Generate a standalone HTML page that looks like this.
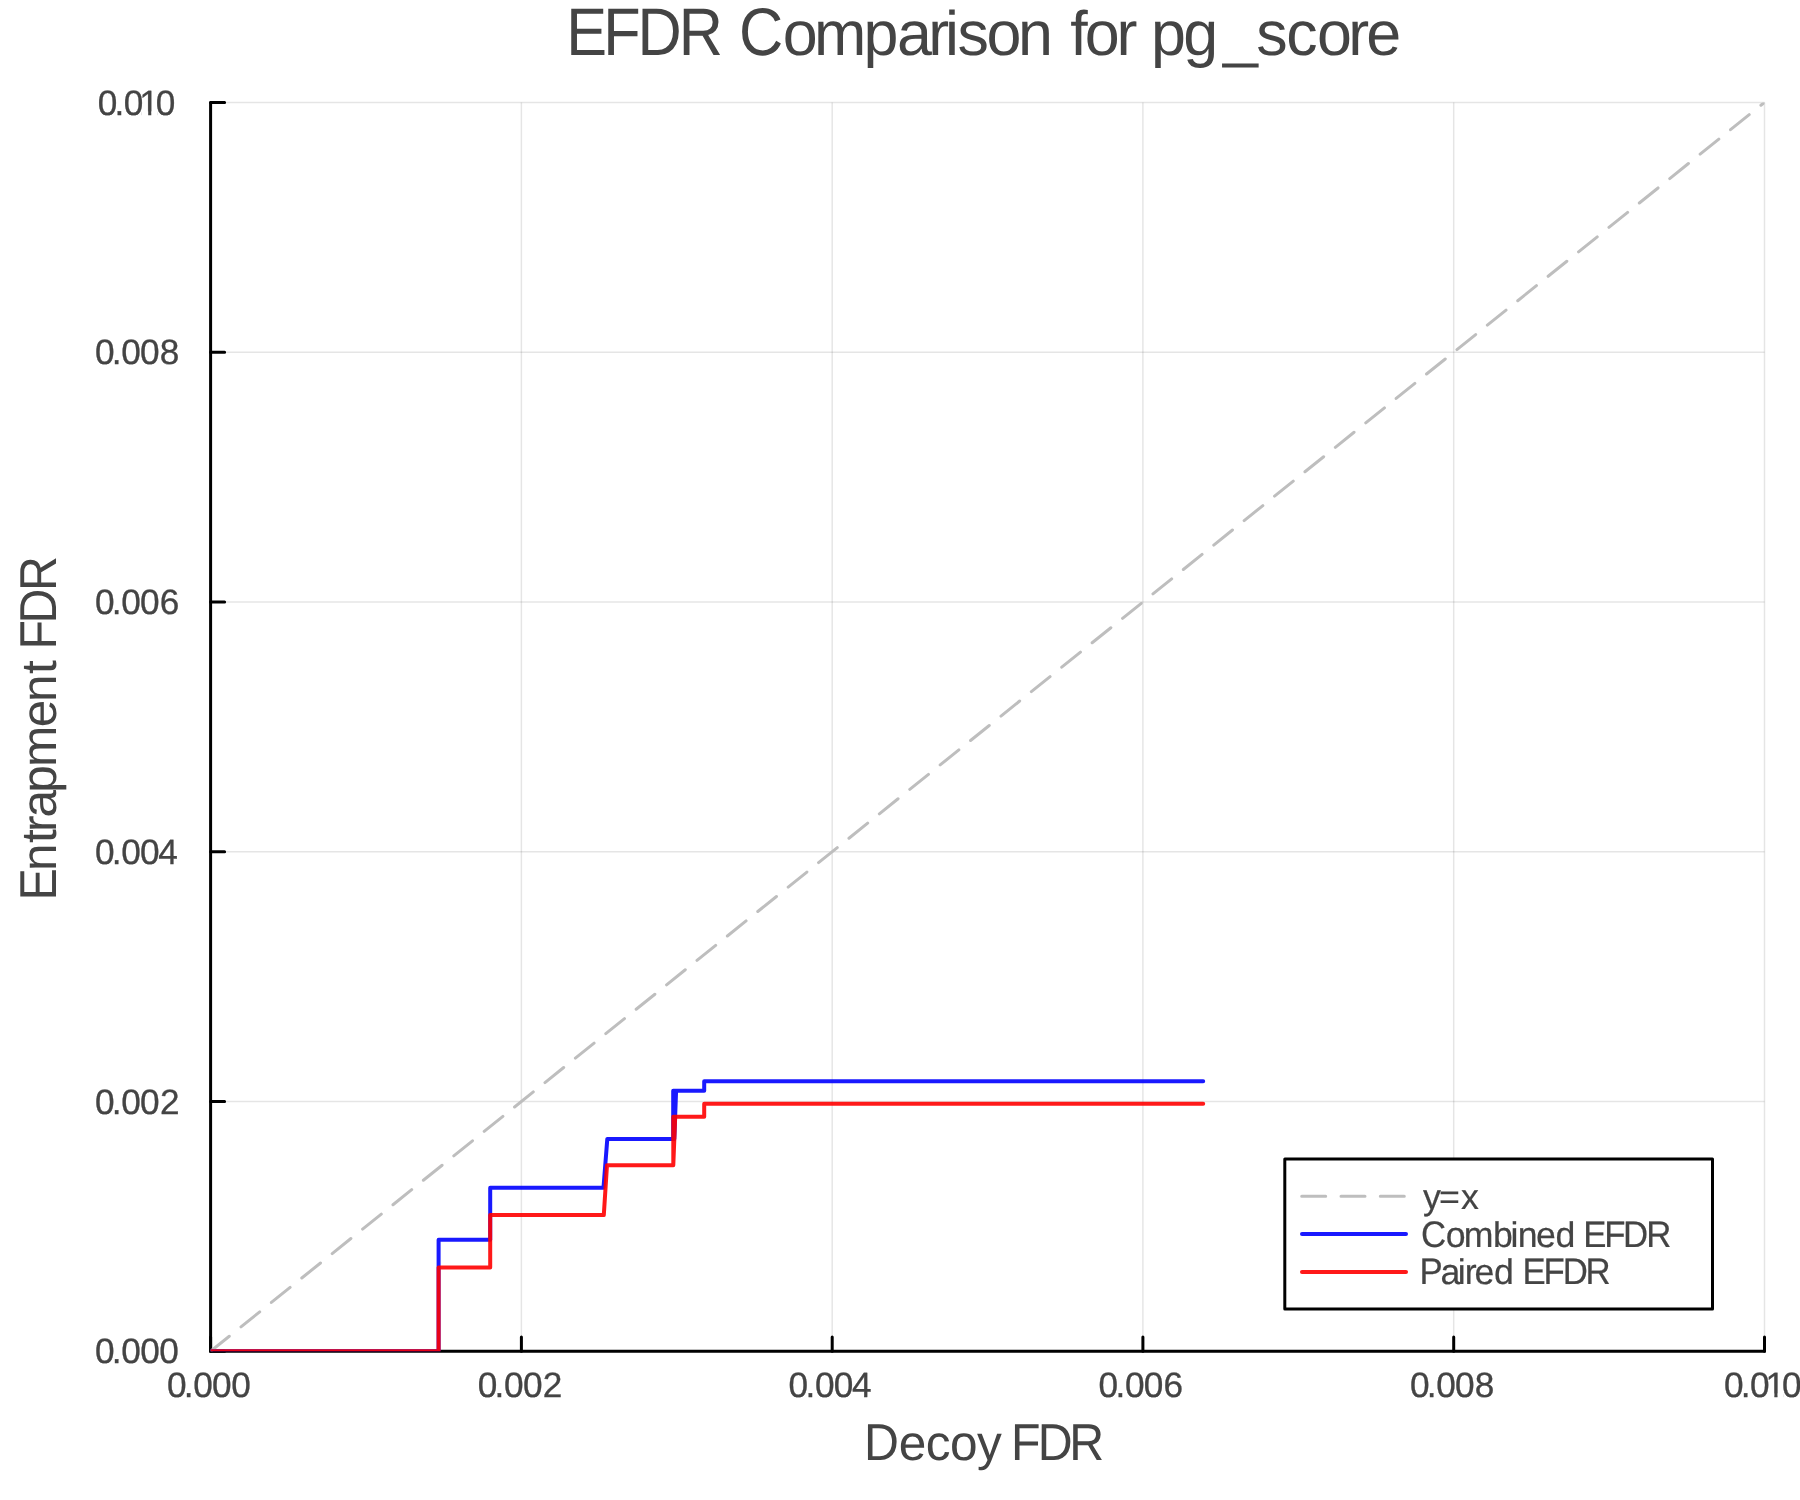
<!DOCTYPE html>
<html>
<head>
<meta charset="utf-8">
<title>EFDR Comparison for pg_score</title>
<style>
  html, body { margin: 0; padding: 0; background: #ffffff; }
  body { width: 1800px; height: 1500px; overflow: hidden; }
  svg { display: block; }
  text { font-family: "Liberation Sans", sans-serif; fill: #444444; text-rendering: geometricPrecision; }
  .tick { font-size: 35.2px; stroke: #444444; stroke-width: 0.3px; }
  .guide { font-size: 49.6px; }
  .title { font-size: 62.8px; }
  .leg { font-size: 35.7px; stroke: #444444; stroke-width: 0.2px; }
  .labels { opacity: 0.999; }
</style>
</head>
<body>
<svg width="1800" height="1500" viewBox="0 0 1800 1500">
  <defs>
    <clipPath id="vp"><rect x="210.6" y="102.4" width="1553.9" height="1248.9"/></clipPath>
    <clipPath id="c1y"><path clip-rule="evenodd" d="M0,0H1800V1500H0Z M141.5,111.52H148.17V116.5H141.5Z M151.28,111.52H157.67V116.5H151.28Z"/></clipPath>
    <clipPath id="c1x"><path clip-rule="evenodd" d="M0,0H1800V1500H0Z M1767.7,1393.52H1774.37V1398.5H1767.7Z M1777.48,1393.52H1783.87V1398.5H1777.48Z"/></clipPath>
  </defs>
  <rect x="0" y="0" width="1800" height="1500" fill="#ffffff"/>

  <!-- grid -->
  <g stroke="#000000" stroke-opacity="0.1" stroke-width="1.5" fill="none">
    <path d="M521.4,102.4V1351.3 M832.2,102.4V1351.3 M1142.9,102.4V1351.3 M1453.7,102.4V1351.3 M1764.5,102.4V1351.3"/>
    <path d="M210.6,1101.5H1764.5 M210.6,851.7H1764.5 M210.6,602.0H1764.5 M210.6,352.2H1764.5 M210.6,102.4H1764.5"/>
  </g>

  <!-- axes + ticks -->
  <g stroke="#000000" stroke-width="3" fill="none" stroke-linecap="round" stroke-linejoin="round">
    <path d="M210.6,102.4V1351.3H1764.5"/>
    <path d="M210.6,1351.3V1337 M521.4,1351.3V1337 M832.2,1351.3V1337 M1142.9,1351.3V1337 M1453.7,1351.3V1337 M1764.5,1351.3V1337"/>
    <path d="M210.6,1351.3H224.6 M210.6,1101.5H224.6 M210.6,851.7H224.6 M210.6,602.0H224.6 M210.6,352.2H224.6 M210.6,102.4H224.6"/>
  </g>

  <!-- series -->
  <g clip-path="url(#vp)" fill="none" stroke-linecap="round" stroke-linejoin="round">
    <path d="M210.6,1351.3L1764.5,102.4" stroke="#bebebe" stroke-width="3" stroke-dasharray="24 15"/>
    <path d="M210.6,1351.3H438.6V1239.8H490.2V1187.7H603.5L607.3,1139H673.2V1090.8H676.1L674.3,1138.9L676.1,1090.8H704.2V1081.3H1203.2" stroke="#0000ff" stroke-opacity="0.9" stroke-width="4"/>
    <path d="M210.6,1351.3H438.6V1267.5H490.2V1215H603.8L607,1165.2H673.3V1116.7H675.2L673.3,1165.2L675.2,1116.7H704.2V1103.7H1203.2" stroke="#ff0000" stroke-opacity="0.9" stroke-width="4"/>
  </g>

  <!-- legend -->
  <rect x="1284.8" y="1158.9" width="427.7" height="150.1" fill="#ffffff" stroke="#000000" stroke-width="3" stroke-linejoin="round"/>
  <g fill="none" stroke-linecap="round">
    <path d="M1301.7,1196.2H1406" stroke="#bebebe" stroke-width="3" stroke-dasharray="24 15.3"/>
    <path d="M1302,1234H1406" stroke="#0000ff" stroke-opacity="0.9" stroke-width="4"/>
    <path d="M1302,1271.9H1406" stroke="#ff0000" stroke-opacity="0.9" stroke-width="4"/>
  </g>
  <g class="labels">
  <g id="leg1" role="img" aria-label="y=x">
    <text class="leg" transform="translate(0,1209)" y="0" x="1423.11 1439.06 1460.9">y=x</text>
  </g>
  <g id="leg2" role="img" aria-label="Combined EFDR">
    <text class="leg" transform="translate(0,1246.8) scale(0.975,1.035)" y="0" x="1457.47">C</text>
    <text class="leg" xml:space="preserve" transform="translate(0,1246.8)" y="0" x="1445.8 1463.63 1492.9 1510.61 1517.63 1536.08 1555.5 1575.36">ombined </text>
    <text class="leg" transform="translate(0,1246.8) scale(0.975,1.035)" y="0" x="1623.84 1645.38 1664.66 1688.46">EFDR</text>
  </g>
  <g id="leg3" role="img" aria-label="Paired EFDR">
    <text class="leg" transform="translate(0,1284.0) scale(0.975,1.035)" y="0" x="1455.94">P</text>
    <text class="leg" xml:space="preserve" transform="translate(0,1284.0)" y="0" x="1440.38 1457.71 1464.83 1474.58 1494.1 1513.96">aired </text>
    <text class="leg" transform="translate(0,1284.0) scale(0.975,1.035)" y="0" x="1561.58 1583.12 1602.82 1626.2">EFDR</text>
  </g>

  <!-- title -->
  <g id="title" role="img" aria-label="EFDR Comparison for pg_score">
    <text class="title" transform="translate(0,54.6) scale(0.975,1.072)" y="0" x="580.8 618.75 653.82 696.08 741.43 757.84">EFDR C</text>
    <text class="title" transform="translate(0,54.6)" y="0" x="782.66 814.03 863.45 897.03 928.33 945 957.45 986.56 1018.03 1052.96 1070.31 1084.86 1116.43 1137.34 1150.95 1183.36 1222.95 1256.25 1286.33 1316.96 1348.23 1366.33">omparison for pg_score</text>
  </g>

  <!-- axis guides -->
  <g id="xlabel" role="img" aria-label="Decoy FDR">
    <text class="guide" transform="translate(0,1459.8) scale(0.975,1.046)" y="0" x="886.19">D</text>
    <text class="guide" xml:space="preserve" transform="translate(0,1459.8)" y="0" x="898.69 925.69 949.92 976.88 1001.68">ecoy </text>
    <text class="guide" transform="translate(0,1459.8) scale(0.975,1.046)" y="0" x="1036.96 1064.34 1096.75">FDR</text>
  </g>
  <g id="ylabel" role="img" aria-label="Entrapment FDR">
    <text class="guide" transform="translate(56.1,900) rotate(-90) scale(0.975,1.046)" y="0" x="-0.58">E</text>
    <text class="guide" xml:space="preserve" transform="translate(56.1,900) rotate(-90)" y="0" x="29.01 56.95 68.01 82.59 107.3 133.01 172.89 198.01 225.95 239.73">ntrapment </text>
    <text class="guide" transform="translate(56.1,900) rotate(-90) scale(0.975,1.046)" y="0" x="256.85 283.52 316.85">FDR</text>
  </g>

  <!-- y tick labels -->
  <g id="yticks">
    <g clip-path="url(#c1y)"><text class="tick" transform="translate(0,114.5) scale(1,1.0)" y="0" x="97.72 114.49 123.82 139.31 155.72">0.010</text></g>
    <text class="tick" transform="translate(0,364.3) scale(1,1.0)" y="0" x="94.92 111.69 121.22 140.12 159.65">0.008</text>
    <text class="tick" transform="translate(0,614) scale(1,1.0)" y="0" x="94.92 111.69 121.22 140.12 159.85">0.006</text>
    <text class="tick" transform="translate(0,863.8) scale(1,1.0)" y="0" x="94.92 111.69 121.22 140.12 158.35">0.004</text>
    <text class="tick" transform="translate(0,1113.6) scale(1,1.0)" y="0" x="94.92 111.69 121.22 140.12 159.95">0.002</text>
    <text class="tick" transform="translate(0,1363.4) scale(1,1.0)" y="0" x="95.03 111.79 121.33 140.23 159.25">0.000</text>
  </g>
  <!-- x tick labels -->
  <g id="xticks">
    <text class="tick" transform="translate(0,1396.5) scale(1,1.0)" y="0" x="166.93 183.69 193.23 212.12 231.15">0.000</text>
    <text class="tick" transform="translate(0,1396.5) scale(1,1.0)" y="0" x="477.73 494.49 504.03 522.93 542.75">0.002</text>
    <text class="tick" transform="translate(0,1396.5) scale(1,1.0)" y="0" x="788.62 805.39 814.92 833.83 852.05">0.004</text>
    <text class="tick" transform="translate(0,1396.5) scale(1,1.0)" y="0" x="1098.62 1115.39 1124.92 1143.83 1163.55">0.006</text>
    <text class="tick" transform="translate(0,1396.5) scale(1,1.0)" y="0" x="1409.92 1426.69 1436.22 1455.12 1474.65">0.008</text>
    <g clip-path="url(#c1x)"><text class="tick" transform="translate(0,1396.5) scale(1,1.0)" y="0" x="1723.92 1740.69 1750.02 1765.51 1781.92">0.010</text></g>
  </g>
  </g>
</svg>
</body>
</html>
